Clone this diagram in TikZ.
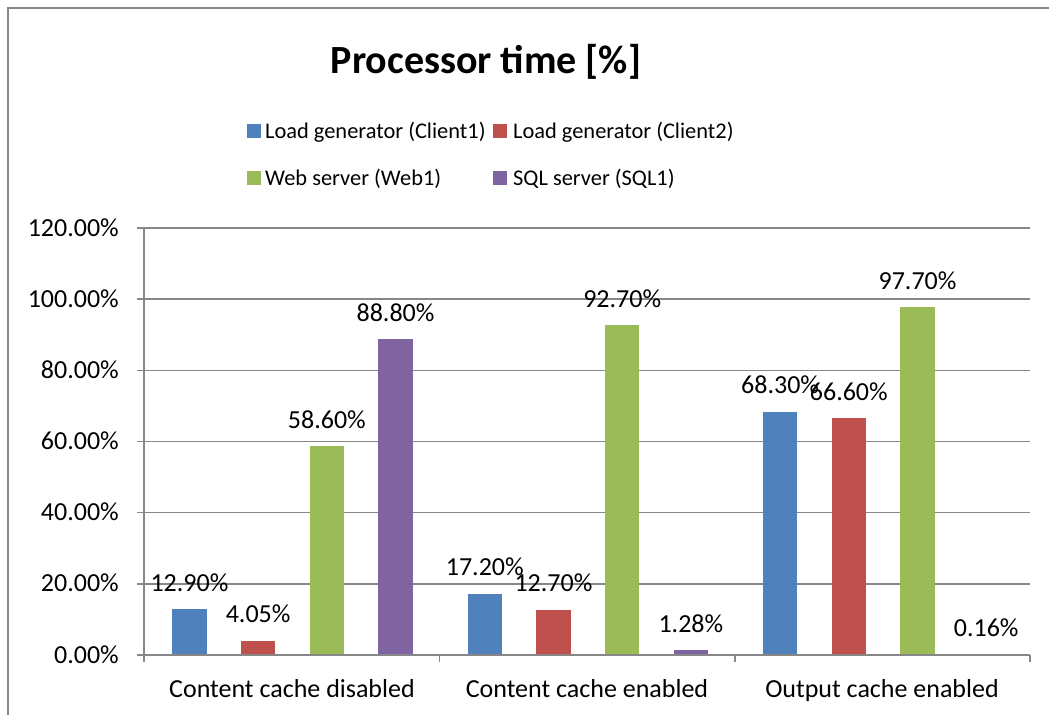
\documentclass[tikz,border=0pt]{standalone}
\usepackage{fontspec}
\setmainfont{Carlito}
\definecolor{sblue}{HTML}{4F81BD}
\definecolor{sred}{HTML}{C0504D}
\definecolor{sgreen}{HTML}{9BBB59}
\definecolor{spurple}{HTML}{8064A2}
\definecolor{gridc}{HTML}{878787}
\newcommand\lblfont{\fontsize{26}{30}\selectfont}
\newcommand\legfont{\fontsize{22.4}{26}\selectfont}
\newcommand\ttlfont{\fontsize{40}{46}\selectfont\bfseries}
\begin{document}
\begin{tikzpicture}[x=1pt,y=-1pt,
  gridline/.style={draw=gridc,line width=1.6pt},
  vlabel/.style={font=\lblfont,anchor=base,inner sep=0pt},
  ylabel/.style={font=\lblfont,anchor=base east,inner sep=0pt},
  legtext/.style={font=\legfont,anchor=base west,inner sep=0pt},
  legbox/.style={minimum size=14pt,inner sep=0pt,draw=none}]
\useasboundingbox (0,0) rectangle (1049,715);
\fill[white] (0,0) rectangle (1049,715);
\draw[gridc,line width=2pt] (8,715) -- (8,7.5) -- (1049,7.5);
% title
\node[font=\ttlfont,anchor=base,inner sep=0pt] (title) at (486,73) {Processor time [\%]};
% legend
\node[legbox,fill=sblue] (lb1) at (254,130.5) {};
\node[legtext] (lt1) at (265,138) {Load generator (Client1)};
\node[legbox,fill=sred] (lb2) at (500,130.5) {};
\node[legtext] (lt2) at (513,138) {Load generator (Client2)};
\node[legbox,fill=sgreen] (lb3) at (254,178) {};
\node[legtext] (lt3) at (265,185) {Web server (Web1)};
\node[legbox,fill=spurple] (lb4) at (500,178) {};
\node[legtext] (lt4) at (513,185) {SQL server (SQL1)};
% grid and y labels
\foreach \v in {20,40,...,120}{
  \draw[gridline] (137,{655-3.5583*\v}) -- (1030,{655-3.5583*\v});
}
\foreach \v in {0,20,...,120}{
  \node[ylabel] (yl\v) at (119,{655-3.5583*\v+8}) {\v.00\%};
}
% bars
\foreach \i/\j/\v/\t/\col in {
  0/0/12.9/12.90/sblue, 0/1/4.05/4.05/sred, 0/2/58.6/58.60/sgreen, 0/3/88.8/88.80/spurple,
  1/0/17.2/17.20/sblue, 1/1/12.7/12.70/sred, 1/2/92.7/92.70/sgreen, 1/3/1.28/1.28/spurple,
  2/0/68.3/68.30/sblue, 2/1/66.6/66.60/sred, 2/2/97.7/97.70/sgreen, 2/3/0.16/0.16/spurple}{
  \pgfmathsetmacro\xl{144+295.33*\i+28.3+68.7*\j}
  \pgfmathsetmacro\yt{655-3.5583*\v}
  \fill[fill=\col] (\xl,655) rectangle ({\xl+34.3},\yt);
  \node[vlabel] (v\i\j) at ({\xl+17.15},{\yt-18}) {\t\%};
}
% axes
\draw[gridline] (144,228) -- (144,655);
\draw[gridline] (137,655) -- (1030,655);
\foreach \x in {144,439.3,734.7,1030}{
  \draw[gridline] (\x,655) -- (\x,662);
}
% category labels
\node[vlabel] (c0) at (292,697) {Content cache disabled};
\node[vlabel] (c1) at (587,697) {Content cache enabled};
\node[vlabel] (c2) at (882,697) {Output cache enabled};
\end{tikzpicture}
\end{document}
